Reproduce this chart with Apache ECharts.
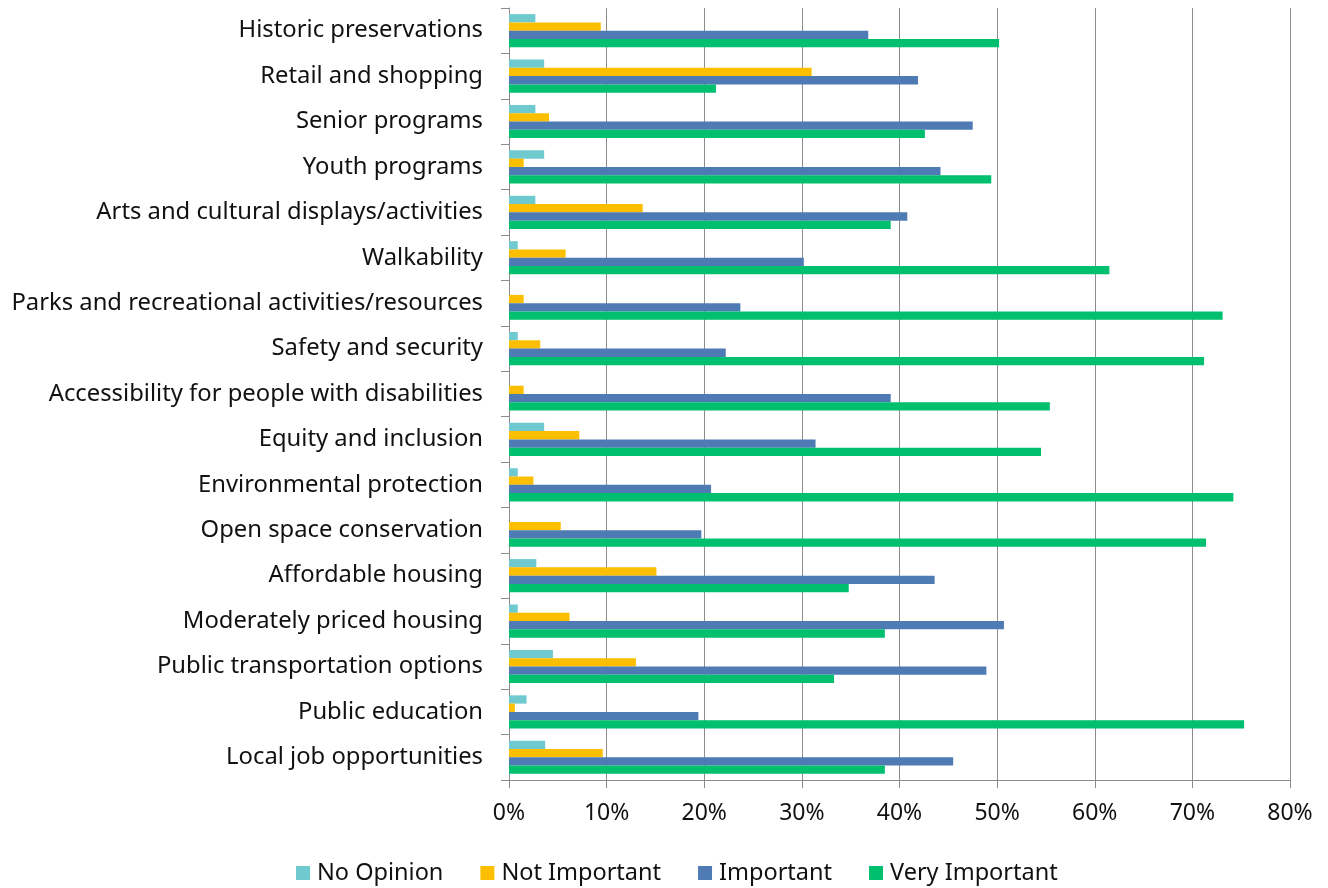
<!DOCTYPE html>
<html>
<head>
<meta charset="utf-8">
<script src="https://cdn.jsdelivr.net/npm/echarts@6/dist/echarts.min.js"></script>
<style>html,body{margin:0;padding:0;background:#fff}#c{width:1328px;height:888px}</style>
</head>
<body>
<div id="c"></div>
<script>
const categories = [
  "Historic preservations",
  "Retail and shopping",
  "Senior programs",
  "Youth programs",
  "Arts and cultural displays/activities",
  "Walkability",
  "Parks and recreational activities/resources",
  "Safety and security",
  "Accessibility for people with disabilities",
  "Equity and inclusion",
  "Environmental protection",
  "Open space conservation",
  "Affordable housing",
  "Moderately priced housing",
  "Public transportation options",
  "Public education",
  "Local job opportunities"
];
const noOpinion     = [2.7, 3.6, 2.7, 3.6, 2.7, 0.9, 0,   0.9, 0,   3.6, 0.9, 0,   2.8, 0.9, 4.5, 1.8, 3.7];
const notImportant  = [9.4, 31.0, 4.1, 1.5, 13.7, 5.8, 1.5, 3.2, 1.5, 7.2, 2.5, 5.3, 15.1, 6.2, 13.0, 0.6, 9.6];
const important     = [36.8, 41.9, 47.5, 44.2, 40.8, 30.2, 23.7, 22.2, 39.1, 31.4, 20.7, 19.7, 43.6, 50.7, 48.9, 19.4, 45.5];
const veryImportant = [50.2, 21.2, 42.6, 49.4, 39.1, 61.5, 73.1, 71.2, 55.4, 54.5, 74.2, 71.4, 34.8, 38.5, 33.3, 75.3, 38.5];
const seriesNames = ["No Opinion", "Not Important", "Important", "Very Important"];
const xTicks = [0, 10, 20, 30, 40, 50, 60, 70, 80];

const colors = ["#6ECACE", "#FBBF00", "#4F7BB5", "#00BF6F"];
const font = "'Noto Sans', sans-serif";
const chart = echarts.init(document.getElementById('c'));
const data = [noOpinion, notImportant, important, veryImportant];
chart.setOption({
  animation: false,
  color: colors,
  textStyle: { fontFamily: font },
  grid: { left: 509, right: 38, top: 8, bottom: 108, containLabel: false },
  legend: {
    top: 856, left: 291,
    data: seriesNames,
    icon: 'rect', itemWidth: 14, itemHeight: 14, itemGap: 37,
    textStyle: { fontSize: 23.5, color: '#111', fontFamily: font, padding: [0, 0, 0, 2] }
  },
  xAxis: {
    type: 'value', min: xTicks[0], max: xTicks[xTicks.length - 1], interval: 10,
    axisLine: { show: true, lineStyle: { color: '#8c8c8c', width: 1 } },
    axisTick: { show: true, length: 8, lineStyle: { color: '#8c8c8c' } },
    splitLine: { show: true, lineStyle: { color: '#8c8c8c', width: 1 } },
    axisLabel: { formatter: '{value}%', fontSize: 23, color: '#111', margin: 22, fontFamily: font }
  },
  yAxis: {
    type: 'category', data: categories, inverse: true,
    axisLine: { show: true, lineStyle: { color: '#8c8c8c', width: 1 } },
    axisTick: { show: true, length: 8, lineStyle: { color: '#8c8c8c' } },
    axisLabel: { fontSize: 23.8, color: '#111', margin: 26, fontFamily: font, padding: [3, 0, 0, 0] }
  },
  series: seriesNames.map((n, i) => ({
    name: n, type: 'bar', data: data[i],
    barGap: '0%', barCategoryGap: '27%'
  }))
});
</script>
</body>
</html>
